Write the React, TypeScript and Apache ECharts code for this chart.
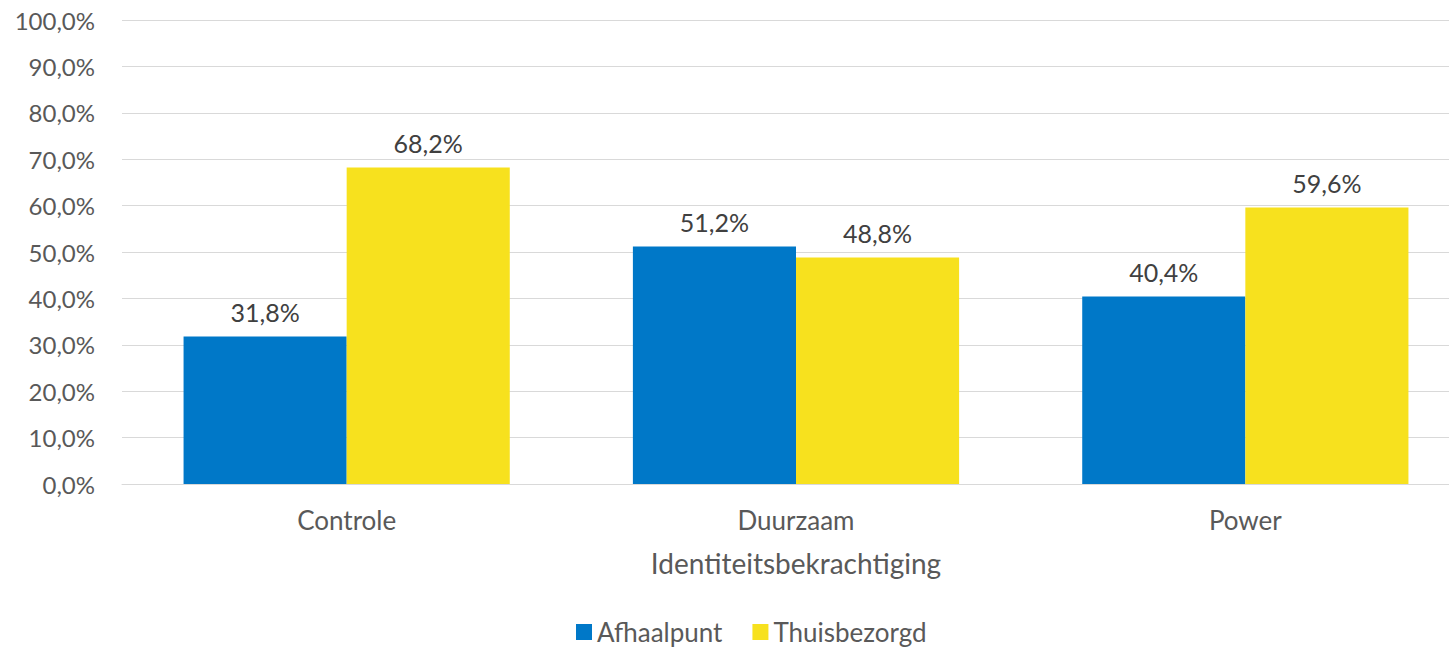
import React, { useEffect, useRef } from "react";
import * as echarts from "echarts";

const categories = ["Controle", "Duurzaam", "Power"];
const afhaalpunt = [31.8, 51.2, 40.4];
const thuisbezorgd = [68.2, 48.8, 59.6];
const seriesNames = ["Afhaalpunt", "Thuisbezorgd"];
const axisTitle = "Identiteitsbekrachtiging";

const FONT = "Lato, 'Noto Sans', sans-serif";
const fmt = (v: number) => v.toFixed(1).replace(".", ",") + "%";

export default function App() {
  const ref = useRef<HTMLDivElement>(null);
  useEffect(() => {
    const chart = echarts.init(ref.current!, null, { renderer: "svg" });
    const labelStyle = {
      show: true,
      position: "top" as const,
      distance: 12,
      color: "#404040",
      fontSize: 25,
      fontFamily: FONT,
      formatter: (p: any) => fmt(p.value),
    };
    chart.setOption({
      animation: false,
      textStyle: { fontFamily: FONT },
      grid: { left: 122, right: 0, top: 20, bottom: 165, containLabel: false },
      legend: {
        top: 619,
        left: 576,
        padding: 0,
        itemWidth: 16,
        itemHeight: 16,
        itemGap: 30,
        icon: "rect",
        textStyle: { fontSize: 26, color: "#595959", fontFamily: FONT },
        data: seriesNames,
      },
      xAxis: {
        type: "category",
        data: categories,
        name: axisTitle,
        nameLocation: "middle",
        nameGap: 65,
        nameTextStyle: { fontSize: 28, color: "#595959", fontFamily: FONT },
        axisLine: { lineStyle: { color: "#d9d9d9", width: 1 } },
        axisTick: { show: false },
        axisLabel: { fontSize: 26, color: "#595959", margin: 23, fontFamily: FONT },
      },
      yAxis: {
        type: "value",
        min: 0,
        max: 100,
        interval: 10,
        axisLine: { show: false },
        axisTick: { show: false },
        splitLine: { lineStyle: { color: "#d9d9d9", width: 1 } },
        axisLabel: {
          fontSize: 24,
          color: "#595959",
          margin: 27,
          fontFamily: FONT,
          formatter: (v: number) => fmt(v),
        },
      },
      series: [
        {
          name: seriesNames[0],
          type: "bar",
          data: afhaalpunt,
          itemStyle: { color: "#0078c8" },
          barGap: "0%",
          barCategoryGap: "27.4%",
          label: labelStyle,
        },
        {
          name: seriesNames[1],
          type: "bar",
          data: thuisbezorgd,
          itemStyle: { color: "#f7e11e" },
          barGap: "0%",
          barCategoryGap: "27.4%",
          label: labelStyle,
        },
      ],
    });
    return () => chart.dispose();
  }, []);
  return (
    <div
      style={{ position: "fixed", left: 0, top: 0, width: 1449, height: 649, background: "#fff", overflow: "hidden" }}
    >
      <div ref={ref} style={{ width: 1470, height: 649 }} />
    </div>
  );
}
